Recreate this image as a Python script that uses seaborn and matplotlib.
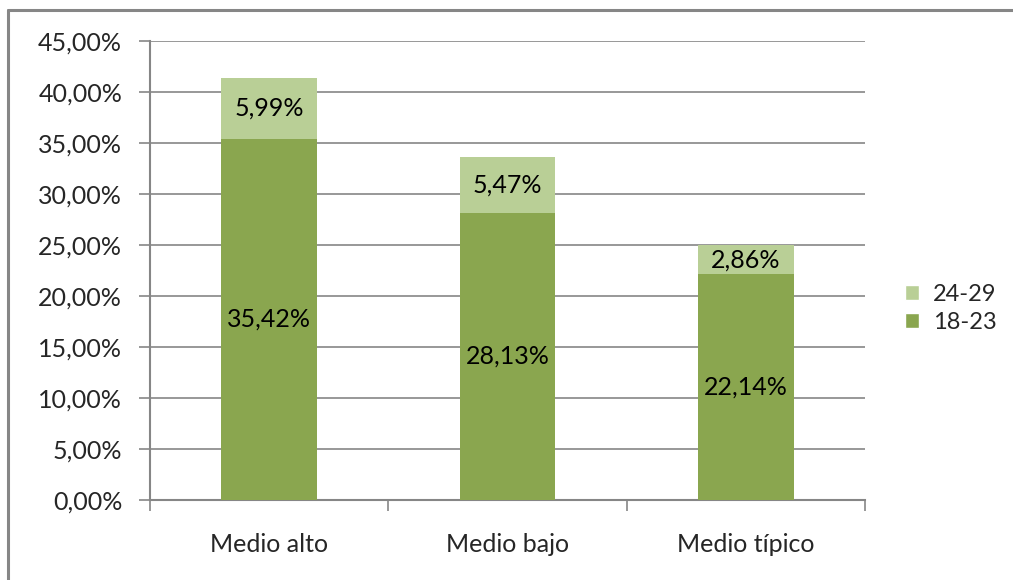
import numpy as np
import pandas as pd
import matplotlib
matplotlib.use('Agg')
import matplotlib.pyplot as plt
import seaborn as sns
from matplotlib.patches import Patch
from matplotlib.lines import Line2D

# ========== DATA ==========
categories = ['Medio alto', 'Medio bajo', 'Medio típico']
edad_18_23 = [35.42, 28.13, 22.14]
edad_24_29 = [5.99, 5.47, 2.86]
series_names = ['18-23', '24-29']
y_ticks = [0, 5, 10, 15, 20, 25, 30, 35, 40, 45]

dark_green = '#8AA64F'
light_green = '#B9CF96'
grid_gray = '#868686'
fs = 18

sns.set_theme(style='white')
plt.rcParams['font.family'] = ['Lato', 'DejaVu Sans']

df = pd.DataFrame({'cat': categories, 'a': edad_18_23, 'b': edad_24_29})
df['total'] = df['a'] + df['b']

fig = plt.figure(figsize=(10.13, 5.8), dpi=100)
ax = fig.add_axes([0.148, 0.138, 0.706, 0.791])

# stacked: draw totals first (light) then bottom series (dark)
sns.barplot(data=df, x='cat', y='total', color=light_green, width=0.4,
            saturation=1, linewidth=0, ax=ax, zorder=3)
sns.barplot(data=df, x='cat', y='a', color=dark_green, width=0.4,
            saturation=1, linewidth=0, ax=ax, zorder=3)

# value labels
for i, row in df.iterrows():
    ax.text(i, row['a'] / 2, f"{row['a']:.2f}%".replace('.', ','),
            ha='center', va='center', fontsize=fs, color='black', zorder=4)
    ax.text(i, row['a'] + row['b'] / 2, f"{row['b']:.2f}%".replace('.', ','),
            ha='center', va='center', fontsize=fs, color='black', zorder=4)

ax.set_ylim(0, 45)
ax.set_xlim(-0.5, 2.5)
ax.set_yticks(y_ticks)
ax.set_yticklabels([f"{t:.2f}%".replace('.', ',') for t in y_ticks], fontsize=fs)
ax.yaxis.grid(True, color=grid_gray, linewidth=1.2)
ax.set_axisbelow(True)
ax.set_xlabel('')
ax.set_ylabel('')

# x ticks at category boundaries, labels centered
ax.set_xticks([-0.5, 0.5, 1.5, 2.5])
ax.set_xticklabels([])
ax.set_xticks([0, 1, 2], minor=True)
ax.set_xticklabels(categories, minor=True, fontsize=fs)
ax.tick_params(axis='x', which='major', direction='out', length=8, width=1.2,
               color=grid_gray, bottom=True)
ax.tick_params(axis='x', which='minor', length=0, pad=24)
ax.tick_params(axis='y', direction='out', length=8, width=1.2,
               color=grid_gray, left=True, pad=12)

for side in ['top', 'right']:
    ax.spines[side].set_visible(False)
for side in ['left', 'bottom']:
    ax.spines[side].set_color(grid_gray)
    ax.spines[side].set_linewidth(1.5)

handles = [Patch(facecolor=light_green, label=series_names[1]),
           Patch(facecolor=dark_green, label=series_names[0])]
fig.legend(handles=handles, loc='center left', bbox_to_anchor=(0.893, 0.468),
           frameon=False, fontsize=17, handlelength=0.6, handleheight=0.6,
           handletextpad=0.6, labelspacing=0.3, borderpad=0, borderaxespad=0)

# outer chart border (top and left visible)
fig.add_artist(Line2D([8 / 1013, 8 / 1013], [0, 1 - 10 / 580],
                      transform=fig.transFigure, color=grid_gray, linewidth=2.2))
fig.add_artist(Line2D([8 / 1013, 1], [1 - 10 / 580, 1 - 10 / 580],
                      transform=fig.transFigure, color=grid_gray, linewidth=2.2))

fig.savefig('out.png', dpi=100)
